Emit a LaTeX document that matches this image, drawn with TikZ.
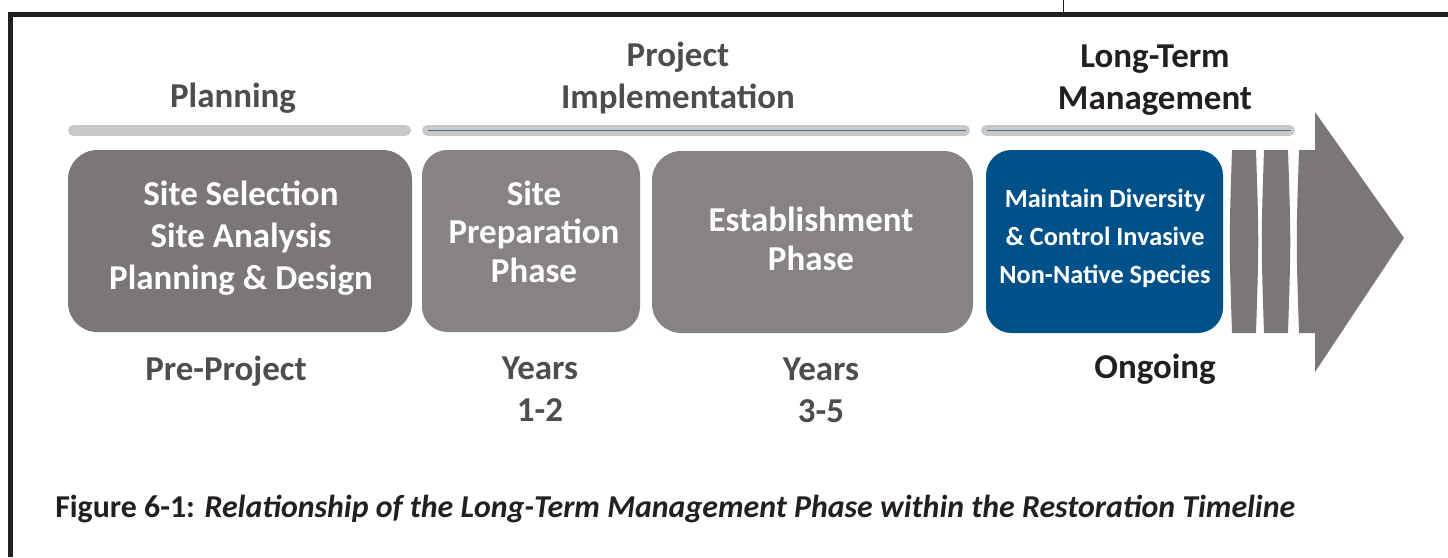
\documentclass[tikz,border=0pt]{standalone}
\usepackage{fontspec}
\setmainfont{Carlito}
\usepackage{tikz}

\definecolor{darkbox}{HTML}{7B7776}
\definecolor{lightbox}{HTML}{878384}
\definecolor{bluebox}{HTML}{00508A}
\definecolor{bargray}{HTML}{C8C8C8}
\definecolor{barline}{HTML}{4F6E8E}
\definecolor{headgray}{HTML}{4D4D4F}
\definecolor{headblack}{HTML}{231F20}

\tikzset{
  phasebar/.style={bargray, line width=8.25pt, line cap=round},
  barthread/.style={barline, line width=0.6pt},
  headtext/.style={font=\fontsize{26.2}{31.5}\selectfont\bfseries, align=center, inner sep=0pt, anchor=base},
  boxtext/.style={font=\fontsize{26.2}{28.8}\selectfont\bfseries, align=center, inner sep=0pt, anchor=base, white},
  bluetext/.style={font=\fontsize{19.7}{28.5}\selectfont\bfseries, align=center, inner sep=0pt, anchor=base, white},
}

\begin{document}
\begin{tikzpicture}[x=0.75pt,y=0.75pt,yscale=-1,xscale=1]
    \path[use as bounding box] (0,0) rectangle (1448,557);

    %Shape: Frame
    \draw [headblack, line width=3.75pt, line join=miter] (1448,14) -- (10.5,14) -- (10.5,557) ;
    \draw [headblack, line width=0.75pt] (1063,0) -- (1063,12) ;

    %Shape: Bars
    \draw [phasebar] (73.5,130.5) -- (405.5,130.5) ;
    \draw [phasebar] (427.5,130.5) -- (964.5,130.5) ;
    \draw [barthread] (428,130.5) -- (966,130.5) ;
    \draw [phasebar] (986.5,130.5) -- (1289.5,130.5) ;
    \draw [barthread] (987,130.5) -- (1291,130.5) ;

    %Shape: Rounded Rectangles
    \fill [darkbox, rounded corners=22pt] (68,150) rectangle (412,332) ;
    \fill [lightbox, rounded corners=19pt] (422,150) rectangle (640,332) ;
    \fill [lightbox, rounded corners=22pt] (652,151) rectangle (973,333) ;
    \fill [bluebox, rounded corners=19pt] (986,150) rectangle (1223,333) ;

    %Shape: Strips and Arrow
    \fill [darkbox] (1232,150) .. controls (1229,241) .. (1232,333) -- (1256,333) .. controls (1259,241) .. (1256,150) -- cycle ;
    \fill [darkbox] (1264,150) .. controls (1261,241) .. (1264,333) -- (1288,333) .. controls (1291,241) .. (1288,150) -- cycle ;
    \fill [darkbox] (1299,150) .. controls (1296,241) .. (1299,333) -- (1315,333) -- (1315,372) -- (1404,238) -- (1315,112) -- (1315,150) -- cycle ;

    % Text Node
    \draw (233,107) node [headtext, headgray] (planning) {Planning};
    % Text Node
    \draw (678,108) node [headtext, headgray] (implementation) {Project\\Implementation};
    % Text Node
    \draw (1155,109) node [headtext, headblack] (management) {Long-Term\\Management};

    % Text Node
    \draw (241,289) node [boxtext, font=\fontsize{26.2}{31.5}\selectfont\bfseries] (selection) {Site Selection\\Site Analysis\\Planning \& Design};
    % Text Node
    \draw (534,282) node [boxtext] (preparation) {Site\\Preparation\\Phase};
    % Text Node
    \draw (811,270) node [boxtext] (establishment) {Establishment\\Phase};
    % Text Node
    \draw (1105,283) node [bluetext] (diversity) {Maintain Diversity\\\& Control Invasive\\Non-Native Species};

    % Text Node
    \draw (226,380) node [headtext, headgray] (preproject) {Pre-Project};
    % Text Node
    \draw (540,421) node [headtext, headgray] (yearsa) {Years\\1-2};
    % Text Node
    \draw (821,422) node [headtext, headgray] (yearsb) {Years\\3-5};
    % Text Node
    \draw (1155,378) node [headtext, headblack] (ongoing) {Ongoing};

    % Text Node
    \draw (55,517) node [anchor=base west, inner sep=0pt, headblack, font=\fontsize{23.9}{28}\selectfont\bfseries] (caption) {Figure 6-1: \textit{Relationship of the Long-Term Management Phase within the Restoration Timeline}};

\end{tikzpicture}
\end{document}
